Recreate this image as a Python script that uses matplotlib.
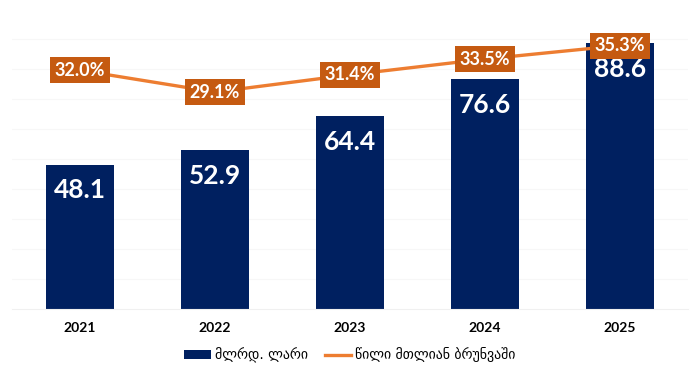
import matplotlib.pyplot as plt
from matplotlib.patches import Patch
from matplotlib.lines import Line2D

years = ['2021', '2022', '2023', '2024', '2025']
volume = [48.1, 52.9, 64.4, 76.6, 88.6]      # მლრდ. ლარი
share = [32.0, 29.1, 31.4, 33.5, 35.3]       # % of total turnover

BAR_COLOR = '#002060'
LINE_COLOR = '#ED7D31'
BOX_COLOR = '#C55A11'

plt.rcParams['font.family'] = ['Lato', 'DejaVu Sans']

fig = plt.figure(figsize=(7, 3.72), dpi=100)
ax = fig.add_axes([12/700, 63/372, 676/700, 289/372])
ax2 = ax.twinx()

x = list(range(len(years)))
ax.bar(x, volume, width=0.5, color=BAR_COLOR, zorder=2)
ax.set_xlim(-0.504, 4.504)
ax.set_ylim(0, 96.3)
ax.set_yticks(range(10, 100, 10))
ax.grid(axis='y', color='#F7F7F7', linewidth=0.8, zorder=0)
ax.set_axisbelow(True)

for xi, v in zip(x, volume):
    ax.text(xi, v - 8.6, f'{v:.1f}', ha='center', va='center', color='white',
            fontsize=19, fontweight='bold', zorder=3)

ax2.plot(x, share, color=LINE_COLOR, linewidth=2.4, zorder=3)
ax2.set_ylim(0.2, 38.7)
for xi, s in zip(x, share):
    ax2.text(xi, s, f'{s:.1f}%', ha='center', va='center', color='white',
             fontsize=13, fontweight='bold', zorder=4,
             bbox=dict(boxstyle='square,pad=0.25', facecolor=BOX_COLOR, edgecolor='none'))

ax.set_xticks(x)
ax.set_xticklabels(years, fontsize=10, fontweight='bold')
ax.tick_params(axis='x', length=0, pad=9)
for a in (ax, ax2):
    a.tick_params(axis='y', left=False, right=False, labelleft=False, labelright=False)
    for sp in a.spines.values():
        sp.set_visible(False)
ax.spines['bottom'].set_visible(True)
ax.spines['bottom'].set_color('#F0F0F0')

handles = [Patch(facecolor=BAR_COLOR), Line2D([0], [0], color=LINE_COLOR, linewidth=2.4)]
labels = ['მლრდ. ლარი', 'წილი მთლიან ბრუნვაში']
fig.legend(handles, labels, loc='center', bbox_to_anchor=(0.5, 17/372), ncol=2,
           frameon=False, prop={'family': 'DejaVu Sans', 'size': 10},
           handlelength=1.9, handleheight=0.6, columnspacing=1.2, handletextpad=0.3)

fig.savefig('out.png', dpi=100)
